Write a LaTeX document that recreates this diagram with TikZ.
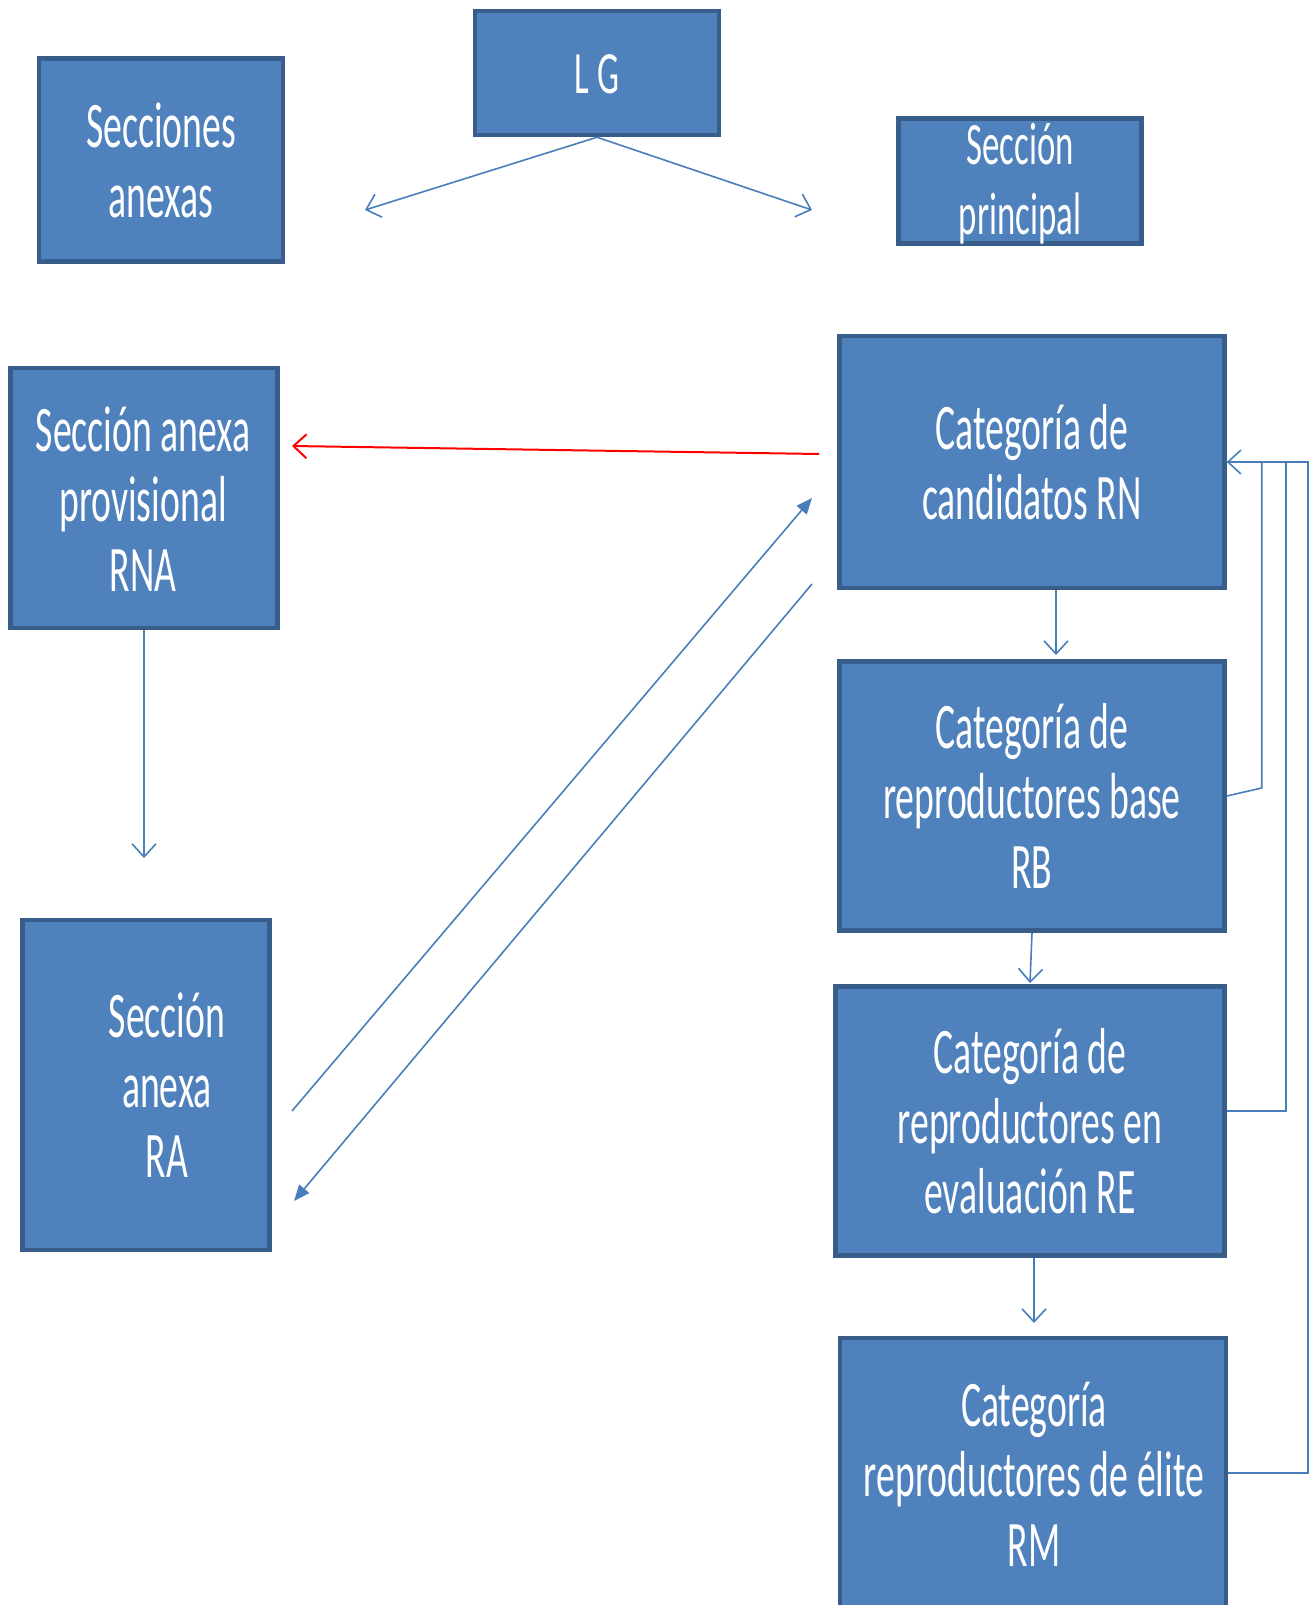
\documentclass[tikz,border=0pt]{standalone}
\usepackage{fontspec}
\setmainfont{Carlito}[FakeStretch=0.58]
\usetikzlibrary{
  arrows.meta, % for open and filled tips
  calc}
\definecolor{boxfill}{RGB}{79,129,189}
\definecolor{boxline}{RGB}{56,93,138}
\definecolor{linkblue}{RGB}{74,126,187}
\tikzstyle{block} = [draw=boxline, fill=boxfill, line width=4.5pt, inner sep=0pt]
\tikzstyle{boxtext} = [text=white, align=center, font=\fontsize{65}{70}\selectfont]
\tikzstyle{smalltext} = [boxtext, font=\fontsize{60}{70}\selectfont]
\tikzstyle{link} = [draw=linkblue, line width=1.6pt]
\tikzstyle{opentip} = [-{Straight Barb[length=13pt,width=24pt]}]
\tikzstyle{filltip} = [-{Triangle[length=16pt,width=13pt]}]

\begin{document}
\begin{tikzpicture}[ x=1pt, y=-1pt ]
\clip (0,0) rectangle (1309,1605);

% boxes
\node[block, minimum width=244pt, minimum height=124pt] (lg) at (597,73) {};
\node[block, minimum width=244pt, minimum height=203pt] (anexas) at (161,160) {};
\node[block, minimum width=243pt, minimum height=125pt] (principal) at (1020,181) {};
\node[block, minimum width=267pt, minimum height=260pt] (rna) at (144,498) {};
\node[block, minimum width=247pt, minimum height=330pt] (ra) at (146,1085) {};
\node[block, minimum width=385pt, minimum height=252pt] (rn) at (1032,462) {};
\node[block, minimum width=385pt, minimum height=269pt] (rb) at (1032,796) {};
\node[block, minimum width=389pt, minimum height=269pt] (re) at (1030,1121) {};
\node[block, minimum width=386pt, minimum height=278pt] (rm) at (1033,1477) {};

\node[smalltext] (lgtext) at (597,74) {L G};
\node[boxtext] (anexastext) at (161,160) {Secciones\\anexas};
\node[smalltext] (principaltext) at (1020,184) {Sección\\principal};
\node[boxtext] (rnatext) at (143,499) {Sección anexa\\provisional\\RNA};
\node[boxtext] (ratext) at (167,1085) {Sección\\anexa\\RA};
\node[boxtext] (rntext) at (1032,462) {Categoría de\\candidatos RN};
\node[boxtext] (rbtext) at (1032,796) {Categoría de\\reproductores base\\RB};
\node[boxtext] (retext) at (1030,1121) {Categoría de\\reproductores en\\evaluación RE};
\node[boxtext] (rmtext) at (1034,1474) {Categoría\\reproductores de élite\\RM};

% free ends
\coordinate (lgleft) at (365,210);
\coordinate (lgright) at (812,210);
\coordinate (redstart) at (819,454);
\coordinate (redend) at (292,446);
\coordinate (rnaend) at (144,858);
\coordinate (raup) at (292,1111);
\coordinate (rnup) at (812,498);
\coordinate (rndown) at (812,584);
\coordinate (radown) at (294,1201);
\coordinate (rbtop) at (1056,655);
\coordinate (retop) at (1030,983);
\coordinate (rmtop) at (1034,1323);

\draw[link, opentip] (lg.south) -- (lgleft);
\draw[link, opentip] (lg.south) -- (lgright);
\draw[link, draw=red, line width=2pt, opentip] (redstart) -- (redend);
\draw[link, opentip] (rna.south) -- (rnaend);
\draw[link, filltip] (raup) -- (rnup);
\draw[link, filltip] (rndown) -- (radown);
\draw[link, opentip] ([xshift=24pt]rn.south) -- (rbtop);
\draw[link, opentip] (rb.south) -- (retop);
\draw[link, opentip] ([xshift=4pt]re.south) -- (rmtop);

% back to RN
\draw[link] (rb.east) -- ++(35,-8) |- (rn.east);
\draw[link] ([yshift=10pt]re.east) -- ++(59,0) |- (rn.east);
\draw[link, opentip] ([yshift=4pt]rm.east) -- ++(80,0) |- (rn.east);

\end{tikzpicture}
\end{document}
